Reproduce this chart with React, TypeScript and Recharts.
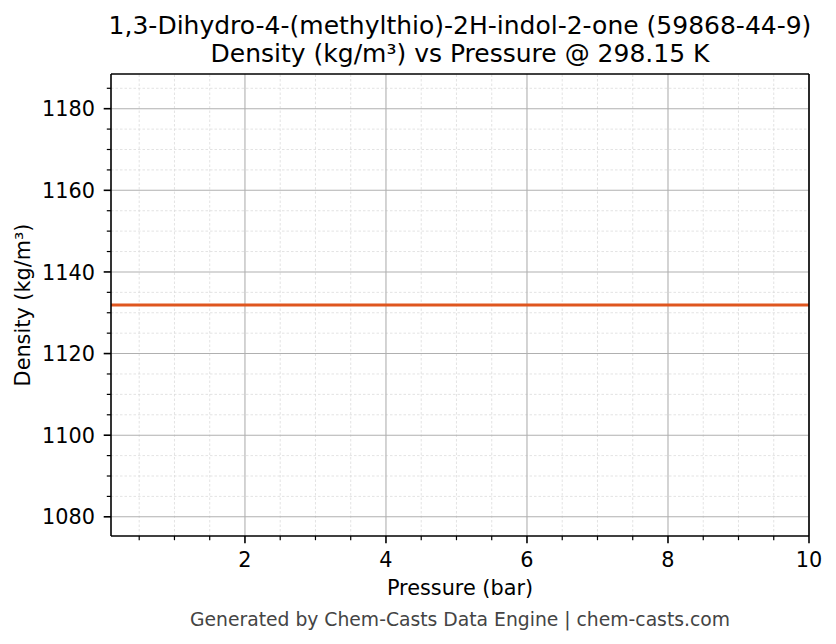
import React from 'react';
import { LineChart, Line, XAxis, YAxis, ReferenceLine } from 'recharts';

const pressures = [0.1, 1, 2, 3, 4, 5, 6, 7, 8, 9, 10];
const densities = [1131.9, 1131.9, 1131.9, 1131.9, 1131.9, 1131.9, 1131.9, 1131.9, 1131.9, 1131.9, 1131.9];

const xMajorTicks = [2, 4, 6, 8, 10];
const xMinorTicks = [0.5, 1, 1.5, 2.5, 3, 3.5, 4.5, 5, 5.5, 6.5, 7, 7.5, 8.5, 9, 9.5];
const yMajorTicks = [1080, 1100, 1120, 1140, 1160, 1180];
const yMinorTicks = [1085, 1090, 1095, 1105, 1110, 1115, 1125, 1130, 1135, 1145, 1150, 1155, 1165, 1170, 1175, 1185];
const xDomain = [0.1, 10];
const yDomain = [1075.3, 1188.5];

const titleLine1 = '1,3-Dihydro-4-(methylthio)-2H-indol-2-one (59868-44-9)';
const titleLine2 = 'Density (kg/m³) vs Pressure @ 298.15 K';
const xLabel = 'Pressure (bar)';
const yLabel = 'Density (kg/m³)';
const footer = 'Generated by Chem-Casts Data Engine | chem-casts.com';

const data = pressures.map((p, i) => ({ pressure: p, density: densities[i] }));
const allX = [...xMinorTicks, ...xMajorTicks].sort((a, b) => a - b);
const allY = [...yMinorTicks, ...yMajorTicks].sort((a, b) => a - b);

const FONT = '"DejaVu Sans", sans-serif';
const TICK_FS = 20.8;

const XTick = (props: any) => {
  const { x, y, payload } = props;
  const major = xMajorTicks.includes(payload.value);
  return (
    <g>
      <line x1={x} y1={y} x2={x} y2={y + (major ? 7.3 : 4.2)} stroke="#000" strokeWidth={major ? 1.6 : 1.2} />
      {major && (
        <text x={x} y={y + 31} textAnchor="middle" fontFamily={FONT} fontSize={TICK_FS} fill="#000">
          {payload.value}
        </text>
      )}
    </g>
  );
};

const YTick = (props: any) => {
  const { x, y, payload } = props;
  const major = yMajorTicks.includes(payload.value);
  return (
    <g>
      <line x1={x - (major ? 7.3 : 4.2)} y1={y} x2={x} y2={y} stroke="#000" strokeWidth={major ? 1.6 : 1.2} />
      {major && (
        <text x={x - 16} y={y + 7.6} textAnchor="end" fontFamily={FONT} fontSize={TICK_FS} fill="#000">
          {payload.value}
        </text>
      )}
    </g>
  );
};

export default function App() {
  return (
    <div style={{ position: 'absolute', left: 0, top: 0, width: 836, height: 644, background: '#fff' }}>
      <LineChart width={836} height={644} data={data} margin={{ top: 74, right: 27, bottom: 0, left: 0 }}>
        {xMinorTicks.map((v) => (
          <ReferenceLine key={'xm' + v} x={v} stroke="#dcdcdc" strokeWidth={0.8} strokeDasharray="2.5 2" />
        ))}
        {yMinorTicks.map((v) => (
          <ReferenceLine key={'ym' + v} y={v} stroke="#dcdcdc" strokeWidth={0.8} strokeDasharray="2.5 2" />
        ))}
        {xMajorTicks.map((v) => (
          <ReferenceLine key={'xM' + v} x={v} stroke="#b0b0b0" strokeWidth={1.1} ifOverflow="visible" />
        ))}
        {yMajorTicks.map((v) => (
          <ReferenceLine key={'yM' + v} y={v} stroke="#b0b0b0" strokeWidth={1.1} />
        ))}
        <XAxis
          dataKey="pressure"
          type="number"
          domain={xDomain}
          ticks={allX}
          interval={0}
          allowDataOverflow
          height={108}
          tickSize={0}
          tickMargin={0}
          tickLine={false}
          tick={<XTick />}
          axisLine={{ stroke: '#000', strokeWidth: 1.6 }}
        />
        <YAxis
          type="number"
          domain={yDomain}
          ticks={allY}
          interval={0}
          allowDataOverflow
          width={111}
          tickSize={0}
          tickMargin={0}
          tickLine={false}
          tick={<YTick />}
          axisLine={{ stroke: '#000', strokeWidth: 1.6 }}
        />
        <Line
          type="linear"
          dataKey="density"
          stroke="#DF561F"
          strokeWidth={3}
          dot={false}
          activeDot={false}
          isAnimationActive={false}
        />
        <ReferenceLine y={yDomain[1]} stroke="#000" strokeWidth={1.6} ifOverflow="visible" />
        <ReferenceLine x={xDomain[1]} stroke="#000" strokeWidth={1.6} ifOverflow="visible" />
      </LineChart>
      <svg
        width={836}
        height={644}
        style={{ position: 'absolute', left: 0, top: 0, pointerEvents: 'none' }}
        fontFamily={FONT}
      >
        <text x={460} y={34} textAnchor="middle" fontSize={25} fill="#000">{titleLine1}</text>
        <text x={460} y={61.5} textAnchor="middle" fontSize={25} fill="#000">{titleLine2}</text>
        <text x={460} y={595} textAnchor="middle" fontSize={TICK_FS} fill="#000">{xLabel}</text>
        <text x={30} y={305} textAnchor="middle" fontSize={TICK_FS} fill="#000" transform="rotate(-90 30 305)">{yLabel}</text>
        <text x={460} y={625.5} textAnchor="middle" fontSize={18.75} fill="#444">{footer}</text>
      </svg>
    </div>
  );
}
